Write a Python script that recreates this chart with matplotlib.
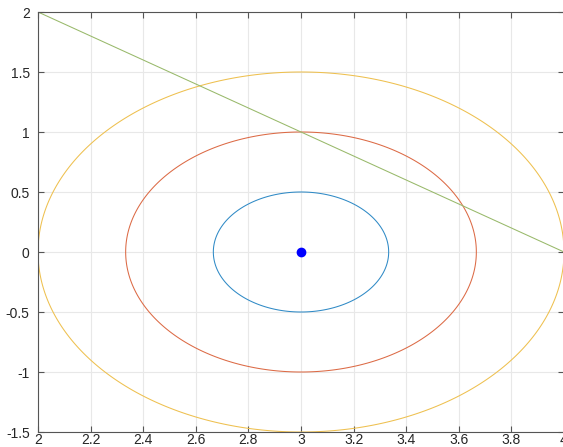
import numpy as np
import matplotlib.pyplot as plt

# f(x, y) = 9(x-3)^2 + 4y^2, level sets
levels = [1, 4, 9]
level_colors = ['#2f8ac6', '#dc6a45', '#eec04f']
center = (3, 0)
line_x = [2, 4]
line_y = [2, 0]

xticks = [2, 2.2, 2.4, 2.6, 2.8, 3, 3.2, 3.4, 3.6, 3.8, 4]
xlabels = ['2', '2.2', '2.4', '2.6', '2.8', '3', '3.2', '3.4', '3.6', '3.8', '4']
yticks = [-1.5, -1, -0.5, 0, 0.5, 1, 1.5, 2]
ylabels = ['-1.5', '-1', '-0.5', '0', '0.5', '1', '1.5', '2']

plt.rcParams['font.family'] = ['Liberation Sans', 'DejaVu Sans']

fig = plt.figure(figsize=(5.63, 4.47), dpi=100)
ax = fig.add_axes([38/563, 15/447, 526/563, 420/447])

x = np.linspace(1.9, 4.1, 1200)
y = np.linspace(-1.6, 1.6, 1200)
X, Y = np.meshgrid(x, y)
F = 9*(X - center[0])**2 + 4*(Y - center[1])**2
ax.contour(X, Y, F, levels=levels, colors=level_colors, linewidths=0.75)

ax.plot(line_x, line_y, color='#98b96a', lw=0.75)
ax.plot(center[0], center[1], 'o', color='#0000FF', markersize=6)

ax.set_xlim(2, 4)
ax.set_ylim(-1.5, 2)
ax.set_xticks(xticks)
ax.set_xticklabels(xlabels)
ax.set_yticks(yticks)
ax.set_yticklabels(ylabels)
ax.grid(True, color='#e8e8e8', lw=0.8)
ax.set_axisbelow(True)
ax.tick_params(direction='in', length=4, width=0.8, color='#555555',
               labelsize=10, labelcolor='#262626', top=True, right=True)
ax.tick_params(axis='x', pad=1)
ax.tick_params(axis='y', pad=6)
for s in ax.spines.values():
    s.set_color('#555555')
    s.set_linewidth(0.8)

fig.savefig('out.png', dpi=100)
